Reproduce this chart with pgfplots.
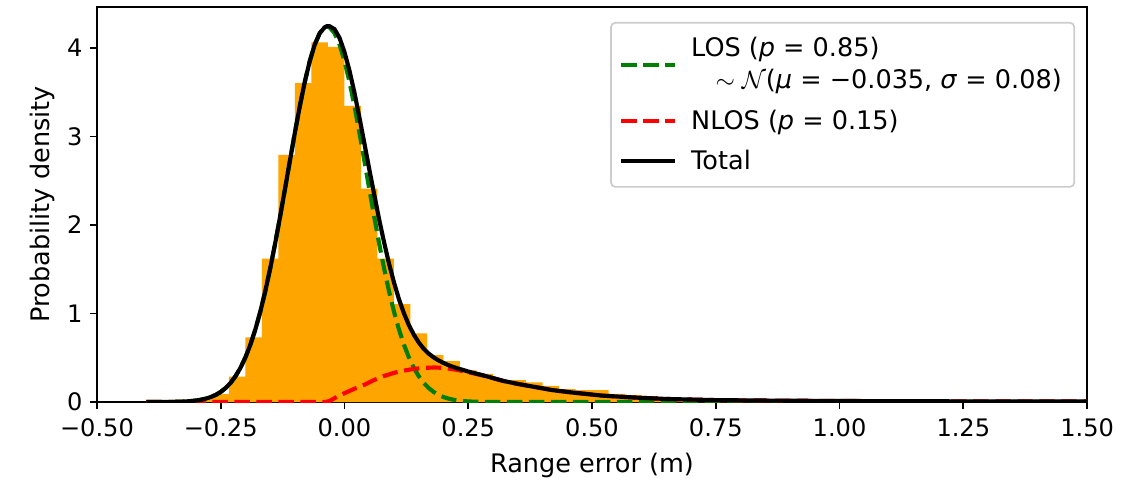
\documentclass[border=0pt]{standalone}
\usepackage{pgfplots}
\pgfplotsset{compat=1.18}
\usepackage{fontspec}
\setmainfont{DejaVu Sans}
\definecolor{mplorange}{HTML}{FFA500}
\definecolor{mplgreen}{HTML}{008000}
\definecolor{mplred}{HTML}{FF0000}
\definecolor{legedge}{HTML}{CCCCCC}

\pgfplotstableread{
x y
-0.4000 0.002
-0.3667 0.005
-0.3333 0.012
-0.3000 0.035
-0.2667 0.090
-0.2333 0.286
-0.2000 0.730
-0.1667 1.620
-0.1333 2.790
-0.1000 3.600
-0.0667 4.060
-0.0333 4.010
0.0000 3.345
0.0333 2.410
0.0667 1.620
0.1000 1.107
0.1333 0.776
0.1667 0.531
0.2000 0.463
0.2333 0.358
0.2667 0.318
0.3000 0.252
0.3333 0.248
0.3667 0.222
0.4000 0.183
0.4333 0.145
0.4667 0.136
0.5000 0.135
0.5333 0.092
0.5667 0.078
0.6000 0.065
0.6333 0.056
0.6667 0.047
0.7000 0.040
0.7333 0.034
0.7667 0.030
0.8000 0.026
0.8333 0.023
0.8667 0.021
0.9000 0.019
0.9333 0.018
0.9667 0.017
1.0000 0.016
1.0333 0.015
1.0667 0.014
1.1000 0.013
1.1333 0.013
1.1667 0.012
1.2000 0.011
1.2333 0.011
1.2667 0.010
1.3000 0.010
1.3333 0.009
1.3667 0.009
1.4000 0.009
1.4333 0.008
1.4667 0.008
1.5000 0.008
}\histtab

\pgfplotstableread{
x y
-0.40 0.0001
-0.37 0.0007
-0.35 0.0018
-0.34 0.0030
-0.33 0.0047
-0.32 0.0074
-0.31 0.0115
-0.30 0.0176
-0.29 0.0264
-0.28 0.0390
-0.27 0.0567
-0.26 0.0812
-0.25 0.1146
-0.24 0.1590
-0.23 0.2173
-0.22 0.2925
-0.21 0.3873
-0.20 0.5053
-0.19 0.6486
-0.18 0.8202
-0.17 1.0208
-0.16 1.2505
-0.15 1.5087
-0.14 1.7910
-0.13 2.0945
-0.12 2.4100
-0.11 2.7317
-0.10 3.0470
-0.09 3.3467
-0.08 3.6190
-0.07 3.8520
-0.06 4.0370
-0.05 4.1650
-0.04 4.2310
-0.035 4.2390
-0.03 4.2310
-0.02 4.1650
-0.01 4.0370
0.00 3.8520
0.01 3.6190
0.02 3.3467
0.03 3.0470
0.04 2.7317
0.05 2.4100
0.06 2.0945
0.07 1.7910
0.08 1.5087
0.09 1.2505
0.10 1.0208
0.11 0.8202
0.12 0.6486
0.13 0.5053
0.14 0.3873
0.15 0.2925
0.16 0.2173
0.17 0.1590
0.18 0.1146
0.19 0.0812
0.20 0.0567
0.21 0.0390
0.22 0.0264
0.23 0.0176
0.24 0.0115
0.25 0.0074
0.26 0.0047
0.27 0.0030
0.28 0.0018
0.30 0.0007
0.35 0.0000
1.50 0.0000
}\lostab

\pgfplotstableread{
x y
-0.40 0.000
-0.04 0.000
-0.03 0.012
-0.02 0.045
-0.01 0.075
0.00 0.100
0.01 0.125
0.02 0.150
0.03 0.172
0.04 0.195
0.05 0.222
0.06 0.250
0.07 0.272
0.08 0.295
0.09 0.312
0.10 0.330
0.11 0.342
0.12 0.355
0.13 0.365
0.14 0.375
0.15 0.380
0.16 0.385
0.17 0.388
0.18 0.390
0.19 0.389
0.20 0.385
0.22 0.370
0.24 0.350
0.26 0.325
0.28 0.300
0.30 0.270
0.32 0.240
0.35 0.205
0.39 0.165
0.42 0.135
0.46 0.108
0.50 0.085
0.52 0.073
0.58 0.053
0.65 0.035
0.75 0.022
0.85 0.017
1.00 0.012
1.25 0.008
1.50 0.006
}\nlostab

\pgfplotstableread{
x y
-0.40 0.0001
-0.37 0.0007
-0.35 0.0018
-0.34 0.0030
-0.33 0.0047
-0.32 0.0074
-0.31 0.0115
-0.30 0.0176
-0.29 0.0264
-0.28 0.0390
-0.27 0.0567
-0.26 0.0812
-0.25 0.1146
-0.24 0.1590
-0.23 0.2173
-0.22 0.2925
-0.21 0.3873
-0.20 0.5053
-0.19 0.6486
-0.18 0.8202
-0.17 1.0208
-0.16 1.2505
-0.15 1.5087
-0.14 1.7910
-0.13 2.0945
-0.12 2.4100
-0.11 2.7317
-0.10 3.0470
-0.09 3.3467
-0.08 3.6190
-0.07 3.8520
-0.06 4.0370
-0.05 4.1650
-0.04 4.2310
-0.035 4.2450
-0.03 4.2430
-0.02 4.2100
-0.01 4.1120
0.00 3.9520
0.01 3.7440
0.02 3.4970
0.03 3.2190
0.04 2.9270
0.05 2.6320
0.06 2.3450
0.07 2.0630
0.08 1.8040
0.09 1.5630
0.10 1.3510
0.11 1.1620
0.12 1.0040
0.13 0.8700
0.14 0.7620
0.15 0.6730
0.16 0.6020
0.17 0.5470
0.18 0.5050
0.19 0.4700
0.20 0.4420
0.21 0.4170
0.22 0.3960
0.23 0.3780
0.24 0.3620
0.25 0.3450
0.26 0.3300
0.28 0.3020
0.30 0.2710
0.32 0.2400
0.35 0.2050
0.39 0.1650
0.42 0.1350
0.46 0.1080
0.50 0.0850
0.52 0.0730
0.58 0.0530
0.65 0.0350
0.75 0.0220
0.85 0.0170
1.00 0.0120
1.25 0.0080
1.50 0.0060
}\tottab

\begin{document}
\begin{tikzpicture}
\begin{axis}[
  name=ax,
  scale only axis,
  width=477pt, height=190.3pt,
  xmin=-0.5, xmax=1.5, ymin=0, ymax=4.46,
  xtick={-0.5,-0.25,0,0.25,0.5,0.75,1,1.25,1.5},
  xticklabels={−0.50,−0.25,0.00,0.25,0.50,0.75,1.00,1.25,1.50},
  ytick={0,1,2,3,4}, yticklabels={0,1,2,3,4},
  tick align=outside, tick pos=left,
  major tick length=3.5pt,
  every tick/.style={black, line width=0.8pt},
  axis line style={line width=0.8pt},
  tick label style={font=\fontsize{11.6}{13}\selectfont},
  xticklabel style={yshift=-1pt},
  label style={font=\fontsize{12.3}{14}\selectfont},
  xlabel style={yshift=-1pt},
  ylabel style={yshift=-1pt},
  xlabel={Range error (m)},
  ylabel={Probability density},
  legend style={at={(1,1)}, anchor=north east, xshift=-5.8pt, yshift=-7.2pt,
    draw=legedge, line width=0.8pt, rounded corners=2pt, fill=white, fill opacity=0.8, text opacity=1,
    font=\fontsize{12.3}{15.5}\selectfont, cells={anchor=west, align=left},
    inner xsep=4pt, inner ysep=5pt, row sep=4.5pt, column sep=5pt},
  legend image code/.code={\draw[#1] (0cm,0cm) -- (0.9cm,0cm);},
]
\addplot[draw=none, fill=mplorange, const plot mark left, forget plot] table[x=x,y=y] {\histtab} \closedcycle;
\addplot[mplgreen, line width=2pt, dash pattern=on 7.4pt off 3.2pt] table[x=x,y=y] {\lostab};
\addlegendentry{LOS (\textit{p} = 0.85)\\\ \ \ $\sim\mathcal{N}$(\textit{μ} = −0.035, \textit{σ} = 0.08)}
\addplot[mplred, line width=2pt, dash pattern=on 7.4pt off 3.2pt] table[x=x,y=y] {\nlostab};
\addlegendentry{NLOS (\textit{p} = 0.15)}
\addplot[black, line width=2pt] table[x=x,y=y] {\tottab};
\addlegendentry{Total}
\end{axis}
\pgfresetboundingbox
\path[use as bounding box] ([shift={(-46.7pt,-41.4pt)}]ax.south west) rectangle ([shift={(27.9pt,3.4pt)}]ax.north east);
\end{tikzpicture}
\end{document}
